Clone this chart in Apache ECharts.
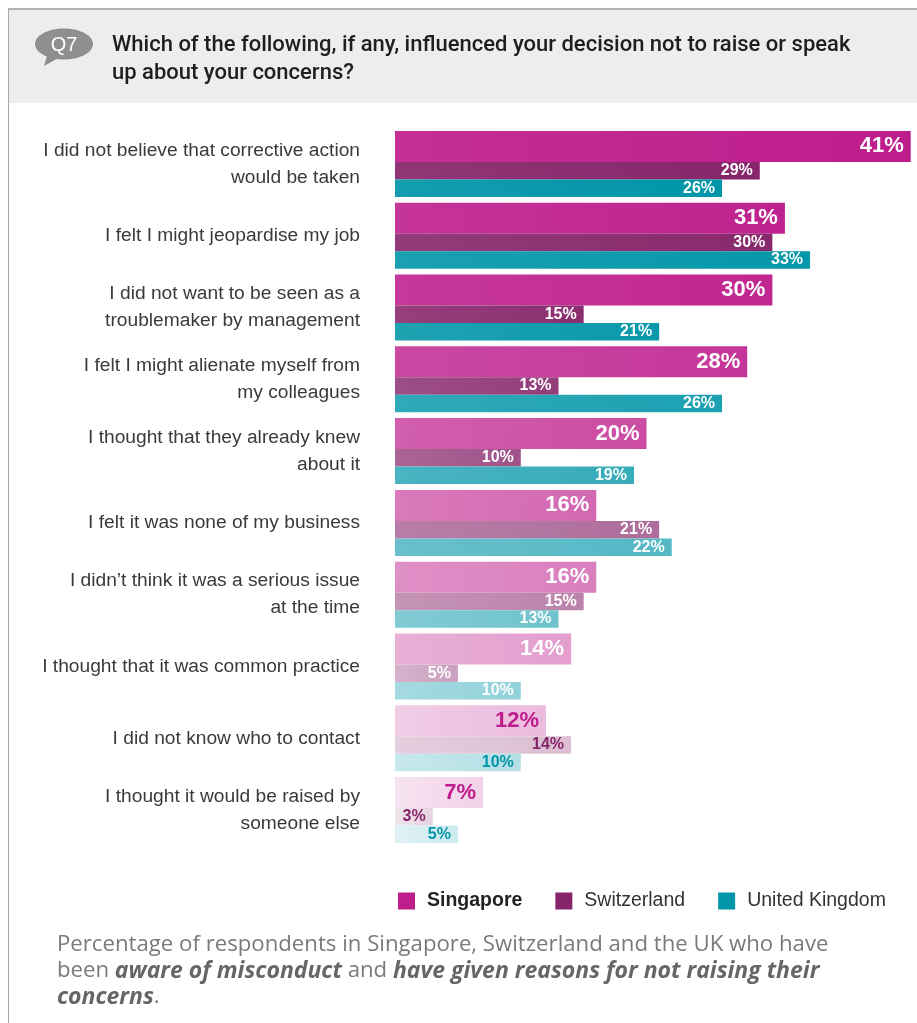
<!DOCTYPE html>
<html>
<head>
<meta charset="utf-8">
<script src="https://cdn.jsdelivr.net/npm/echarts@6/dist/echarts.min.js"></script>
<style>
  html, body { margin: 0; padding: 0; background: #ffffff; }
  #chart { width: 917px; height: 1023px; }
</style>
</head>
<body>
<div id="chart"></div>
<script>
// Survey reasons (top to bottom) and the share of respondents per country
const categories = [
  'I did not believe that corrective action\nwould be taken',
  'I felt I might jeopardise my job',
  'I did not want to be seen as a\ntroublemaker by management',
  'I felt I might alienate myself from\nmy colleagues',
  'I thought that they already knew\nabout it',
  'I felt it was none of my business',
  'I didn\u2019t think it was a serious issue\nat the time',
  'I thought that it was common practice',
  'I did not know who to contact',
  'I thought it would be raised by\nsomeone else'
];
const seriesNames = ['Singapore', 'Switzerland', 'United Kingdom'];
const singapore   = [41, 31, 30, 28, 20, 16, 16, 14, 12, 7];
const switzerland = [29, 30, 15, 13, 10, 21, 15, 5, 14, 3];
const unitedKingdom = [26, 33, 21, 26, 19, 22, 13, 10, 10, 5];

// Styling: base colour per country, how far each row fades toward white
const baseColors = ['#BE1D8C', '#86256A', '#0095A8'];
const fade = [0, 0.02, 0.04, 0.11, 0.21, 0.33, 0.43, 0.57, 0.70, 0.80];
const barHeights = [31, 17.5, 17.5];
const labelSizes = [22, 16, 16];
const SANS = "'Liberation Sans', Arial, sans-serif";
const OPEN = "'Open Sans', 'Liberation Sans', sans-serif";

function mix(hex, t) {
  t = Math.max(0, Math.min(1, t));
  const n = parseInt(hex.slice(1), 16);
  const r = (n >> 16) & 255, g = (n >> 8) & 255, b = n & 255;
  const m = c => Math.round(c + (255 - c) * t);
  return 'rgb(' + m(r) + ',' + m(g) + ',' + m(b) + ')';
}

function buildSeries(values, idx) {
  const base = baseColors[idx];
  return {
    name: seriesNames[idx],
    type: 'bar',
    barWidth: barHeights[idx],
    barGap: '0%',
    barCategoryGap: 0,
    itemStyle: { color: base },
    emphasis: { disabled: true },
    label: {
      show: true,
      position: 'insideRight',
      distance: 7,
      formatter: '{c}%',
      fontFamily: SANS,
      fontWeight: 'bold',
      fontSize: labelSizes[idx]
    },
    data: values.map((v, i) => ({
      value: v,
      itemStyle: {
        color: new echarts.graphic.LinearGradient(0, 0, 1, 0.3, [
          { offset: 0, color: mix(base, fade[i] + 0.08) },
          { offset: 1, color: mix(base, fade[i]) }
        ])
      },
      label: { color: i >= 8 ? base : '#ffffff' }
    }))
  };
}

const chart = echarts.init(document.getElementById('chart'), null, { renderer: 'canvas' });

chart.setOption({
  animation: false,
  backgroundColor: '#ffffff',
  grid: { left: 395, top: 128, width: 522, height: 718, containLabel: false, outerBoundsMode: 'none' },
  xAxis: {
    type: 'value', min: 0, max: 41.5,
    show: false
  },
  yAxis: {
    type: 'category',
    inverse: true,
    data: categories,
    axisLine: { show: false },
    axisTick: { show: false },
    axisLabel: {
      margin: 35,
      fontFamily: SANS,
      fontSize: 19.2,
      lineHeight: 27,
      color: '#3a3a3a',
      align: 'right'
    }
  },
  legend: {
    left: 393,
    top: 886,
    width: 524,
    itemWidth: 17,
    itemHeight: 17,
    itemGap: 33,
    icon: 'rect',
    selectedMode: false,
    data: seriesNames,
    formatter: name => name === 'Singapore' ? '{b|' + name + '}' : '{n|' + name + '}',
    textStyle: {
      padding: [0, 0, 0, 7],
      rich: {
        b: { fontFamily: SANS, fontSize: 19.5, fontWeight: 'bold', color: '#222' },
        n: { fontFamily: SANS, fontSize: 19.5, color: '#333' }
      }
    }
  },
  graphic: [
    // question header band and frame
    { type: 'rect', left: 8, top: 9, shape: { width: 909, height: 94 }, style: { fill: '#EDEDED' }, silent: true },
    { type: 'line', shape: { x1: 8, y1: 9, x2: 917, y2: 9 }, style: { stroke: '#B3B3B3', lineWidth: 2 }, silent: true },
    { type: 'line', shape: { x1: 8.5, y1: 9, x2: 8.5, y2: 1023 }, style: { stroke: '#A8A8A8', lineWidth: 1 }, silent: true },
    // speech bubble with the question number
    { type: 'polygon', shape: { points: [[48, 52], [44, 66], [62, 56]] }, style: { fill: '#8F8F8F' }, silent: true },
    { type: 'ellipse', shape: { cx: 64, cy: 44, rx: 29, ry: 15.5 }, style: { fill: '#8F8F8F' }, silent: true },
    { type: 'text', x: 64, y: 45, style: { text: 'Q7', fill: '#ffffff', font: "20px " + SANS, align: 'center', verticalAlign: 'middle' }, silent: true },
    {
      type: 'text', x: 112, y: 31,
      style: {
        text: 'Which of the following, if any, influenced your decision not to raise or speak\nup about your concerns?',
        fill: '#1e1e1e', font: "500 22px Roboto, " + SANS, lineHeight: 28, verticalAlign: 'top'
      },
      silent: true
    },
    // footnote
    {
      type: 'text', x: 57, y: 932,
      style: {
        text: 'Percentage of respondents in Singapore, Switzerland and the UK who have\nbeen {b|aware of misconduct} and {b|have given reasons for not raising their}\n{b|concerns}.',
        fill: '#7a7a7a', font: "22.2px " + OPEN, lineHeight: 26,
        rich: {
          b: { fontFamily: OPEN, fontSize: 23, fontWeight: 'bold', fontStyle: 'italic', fill: '#666666', lineHeight: 26 }
        }
      },
      silent: true
    }
  ],
  series: [
    buildSeries(singapore, 0),
    buildSeries(switzerland, 1),
    buildSeries(unitedKingdom, 2)
  ]
});
</script>
</body>
</html>
